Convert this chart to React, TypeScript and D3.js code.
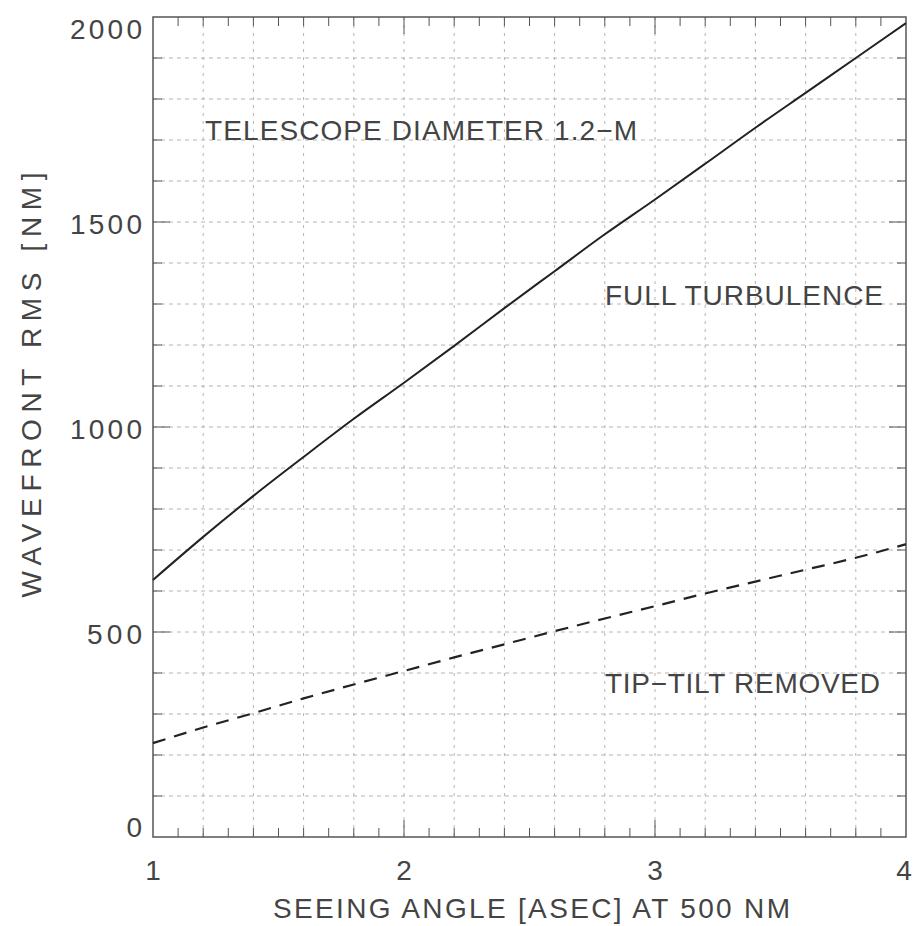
import React, { useEffect, useRef } from "react";
import * as d3 from "d3";

// seeing angle [asec] at 500 nm
const seeing = [1.0, 1.2, 1.4, 1.6, 1.8, 2.0, 2.2, 2.4, 2.6, 2.8, 3.0, 3.2, 3.4, 3.6, 3.8, 4.0];
// wavefront rms [nm]
const fullTurbulence = [627, 732, 832, 927, 1020, 1108, 1198, 1290, 1380, 1470, 1555, 1642, 1730, 1815, 1900, 1985];
const tipTiltRemoved = [229, 267, 302, 338, 372, 405, 438, 470, 502, 533, 563, 594, 623, 652, 681, 714];

const xTickLabels = ["1", "2", "3", "4"];
const yTickLabels = ["0", "500", "1000", "1500", "2000"];

const W = 917;
const H = 926;
const FONT = "'Liberation Sans', 'DejaVu Sans', sans-serif";

export default function App() {
  const svgRef = useRef<SVGSVGElement>(null);

  useEffect(() => {
    const svg = d3.select(svgRef.current);
    svg.selectAll("*").remove();

    const left = 153, right = 906, top = 17, bottom = 837;

    const x = d3.scaleLinear().domain([1, 4]).range([left, right]);
    const y = d3.scaleLinear().domain([0, 2000]).range([bottom, top]);

    const g = svg.append("g");

    // grid
    const gridColor = "#b4b4b4";
    g.append("g")
      .selectAll("line")
      .data(d3.range(1.2, 4, 0.2))
      .enter()
      .append("line")
      .attr("x1", (d) => x(d))
      .attr("x2", (d) => x(d))
      .attr("y1", top)
      .attr("y2", bottom)
      .attr("stroke", gridColor)
      .attr("stroke-width", 1)
      .attr("stroke-dasharray", "3,5");

    g.append("g")
      .selectAll("line")
      .data(d3.range(100, 2000, 100))
      .enter()
      .append("line")
      .attr("x1", left)
      .attr("x2", right)
      .attr("y1", (d) => y(d))
      .attr("y2", (d) => y(d))
      .attr("stroke", gridColor)
      .attr("stroke-width", 1)
      .attr("stroke-dasharray", "4,4");

    // ticks on all four sides
    const tickColor = "#555";
    const xMinor = d3.range(1.1, 4, 0.1).filter((d) => Math.abs(d - Math.round(d)) > 0.01);
    const xMajor = [2, 3];
    const addXTicks = (vals: number[], len: number) => {
      g.append("g")
        .selectAll("line")
        .data(vals)
        .enter()
        .append("line")
        .attr("x1", (d) => x(d))
        .attr("x2", (d) => x(d))
        .attr("y1", bottom)
        .attr("y2", bottom - len)
        .attr("stroke", tickColor);
      g.append("g")
        .selectAll("line")
        .data(vals)
        .enter()
        .append("line")
        .attr("x1", (d) => x(d))
        .attr("x2", (d) => x(d))
        .attr("y1", top)
        .attr("y2", top + len)
        .attr("stroke", tickColor);
    };
    addXTicks(xMinor, 9);
    addXTicks(xMajor, 17);

    const yMinor = d3.range(100, 2000, 100).filter((d) => d % 500 !== 0);
    const yMajor = [500, 1000, 1500];
    const addYTicks = (vals: number[], len: number) => {
      g.append("g")
        .selectAll("line")
        .data(vals)
        .enter()
        .append("line")
        .attr("x1", left)
        .attr("x2", left + len)
        .attr("y1", (d) => y(d))
        .attr("y2", (d) => y(d))
        .attr("stroke", tickColor);
      g.append("g")
        .selectAll("line")
        .data(vals)
        .enter()
        .append("line")
        .attr("x1", right)
        .attr("x2", right - len)
        .attr("y1", (d) => y(d))
        .attr("y2", (d) => y(d))
        .attr("stroke", tickColor);
    };
    addYTicks(yMinor, 9);
    addYTicks(yMajor, 17);

    // frame
    g.append("rect")
      .attr("x", left)
      .attr("y", top)
      .attr("width", right - left)
      .attr("height", bottom - top)
      .attr("fill", "none")
      .attr("stroke", "#555")
      .attr("stroke-width", 1.5);

    // curves
    const line = d3
      .line<number>()
      .x((d, i) => x(seeing[i]))
      .y((d) => y(d))
      .curve(d3.curveMonotoneX);

    g.append("path")
      .attr("d", line(fullTurbulence))
      .attr("fill", "none")
      .attr("stroke", "#222")
      .attr("stroke-width", 2);

    g.append("path")
      .attr("d", line(tipTiltRemoved))
      .attr("fill", "none")
      .attr("stroke", "#222")
      .attr("stroke-width", 2.2)
      .attr("stroke-dasharray", "13,9");

    const textColor = "#444";
    const addText = (
      txt: string,
      tx: number,
      ty: number,
      len: number,
      anchor = "start",
      size = 28
    ) =>
      g.append("text")
        .attr("x", tx)
        .attr("y", ty)
        .attr("text-anchor", anchor)
        .attr("textLength", len)
        .attr("lengthAdjust", "spacing")
        .style("font-family", FONT)
        .style("font-size", size + "px")
        .style("fill", textColor)
        .text(txt);

    // y tick labels (right aligned at 142)
    const yLabelPos: Record<string, number> = { "0": 837, "500": 644, "1000": 439, "1500": 234, "2000": 39 };
    const yLabelLen: Record<string, number> = { "0": 17, "500": 55, "1000": 72, "1500": 72, "2000": 72 };
    yTickLabels.forEach((t) => {
      addText(t, 142, yLabelPos[t], yLabelLen[t], "end", 28);
    });

    // x tick labels
    xTickLabels.forEach((t) => {
      const v = +t;
      const cx = v === 4 ? x(v) - 2 : x(v);
      addText(t, cx, 880, t === "1" ? 12 : 15, "middle", 28);
    });

    // axis titles
    addText("SEEING ANGLE [ASEC] AT 500 NM", 273, 918, 517);
    g.append("text")
      .attr("transform", "translate(41,385) rotate(-90)")
      .attr("text-anchor", "middle")
      .attr("textLength", 425)
      .attr("lengthAdjust", "spacing")
      .style("font-family", FONT)
      .style("font-size", "28px")
      .style("fill", textColor)
      .text("WAVEFRONT RMS [NM]");

    // annotations
    addText("TELESCOPE DIAMETER 1.2\u2212M", 205, 140, 432);
    addText("FULL TURBULENCE", 605, 305, 278);
    addText("TIP\u2212TILT REMOVED", 605, 693, 275);
  }, []);

  return (
    <svg
      ref={svgRef}
      width={W}
      height={H}
      style={{ position: "absolute", left: 0, top: 0, background: "#fff" }}
    />
  );
}
